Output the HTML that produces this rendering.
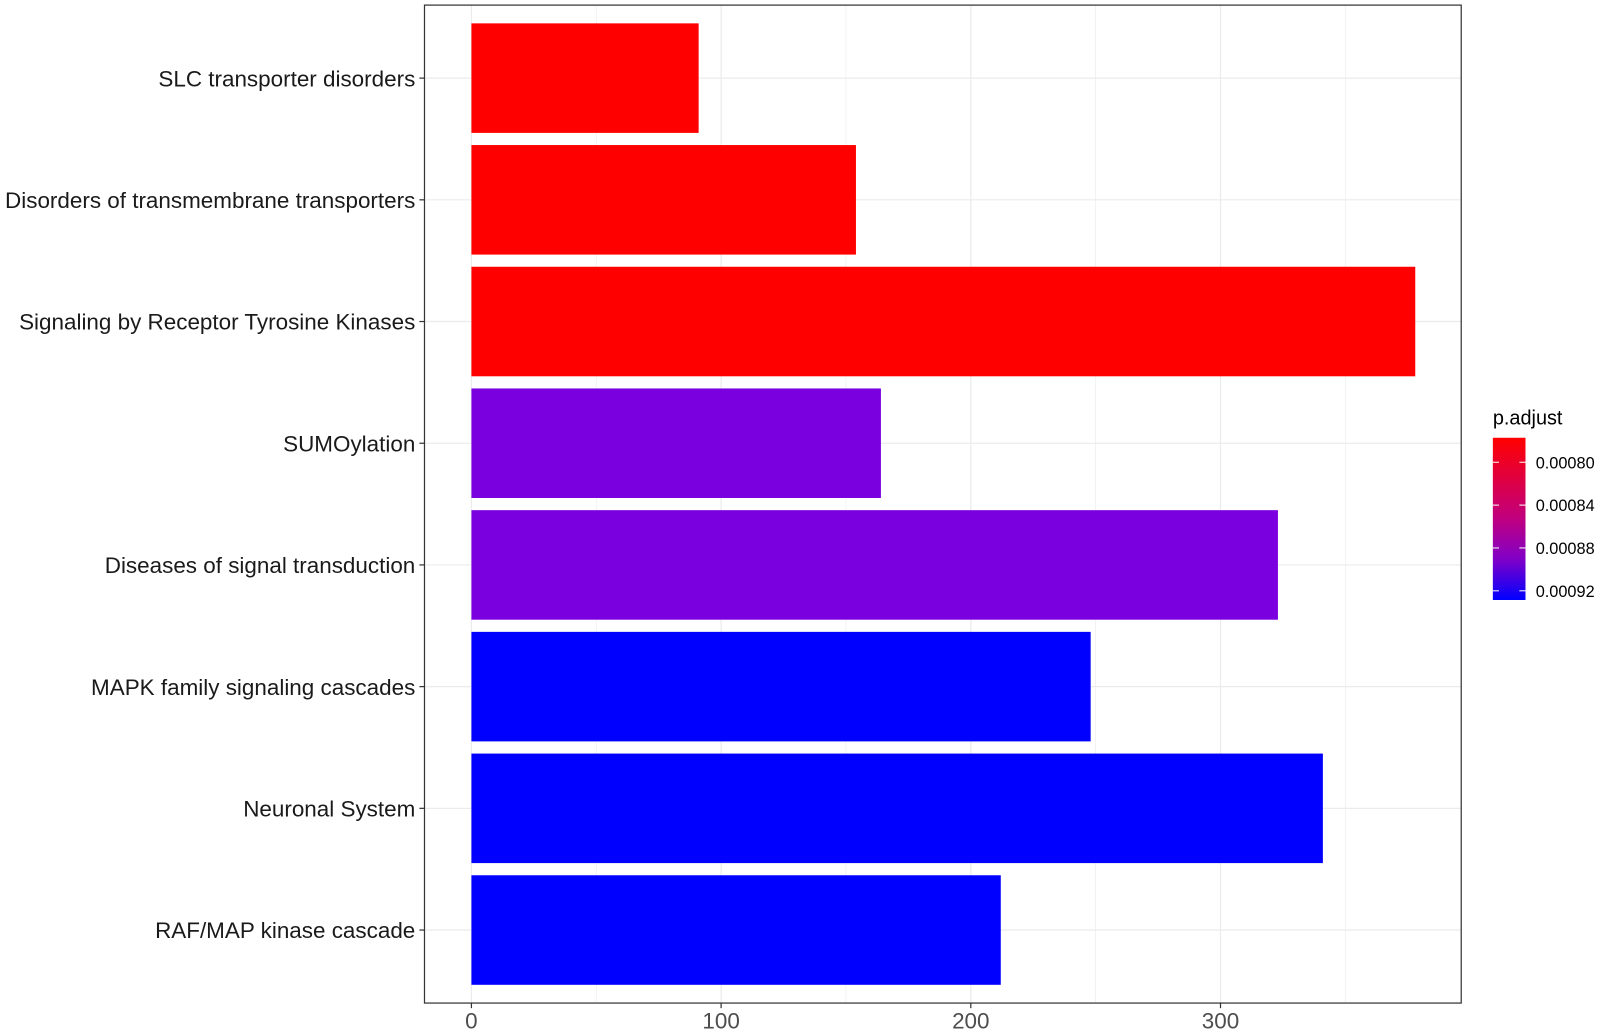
<!DOCTYPE html>
<html><head><meta charset="utf-8"><style>
body{margin:0;background:#fff;}
svg{display:block;font-family:"Liberation Sans",Arial,sans-serif;}
</style></head><body>
<svg width="1600" height="1033">
<defs><linearGradient id="grad" x1="0" y1="0" x2="0" y2="1">
<stop offset="0" stop-color="#ff0000"/><stop offset="0.5" stop-color="#c0007f"/><stop offset="0.75" stop-color="#8000c8"/><stop offset="1" stop-color="#0000ff"/></linearGradient></defs>
<g id="chart" transform="scale(1.0204)"></g>
</svg>
<script>
const categories=["SLC transporter disorders","Disorders of transmembrane transporters","Signaling by Receptor Tyrosine Kinases","SUMOylation","Diseases of signal transduction","MAPK family signaling cascades","Neuronal System","RAF/MAP kinase cascade"];
const counts=[91,154,378,164,323,248,341,212];
const colors=["#ff0000","#ff0000","#ff0000","#7b00e0","#7b00e0","#0000ff","#0000ff","#0000ff"];
const xTicks=[0,100,200,300];
const legendTicks=["0.00080","0.00084","0.00088","0.00092"];
const legendTickPos=[0.00080,0.00084,0.00088,0.00092];

const svg=document.getElementById('chart');
const NS='http://www.w3.org/2000/svg';
const L=416,R=1432,T=5,B=983;
const x=v=>462+v*2.447;
const band=(B-T)/(categories.length-1+1.2);
const yc=i=>T+band*(0.6+i);
function mk(tag,attrs,parent){const e=document.createElementNS(NS,tag);for(const k in attrs)e.setAttribute(k,attrs[k]);(parent||svg).appendChild(e);return e;}
for(let i=0;i<xTicks.length;i++){
  const g=mk('line',{x1:x(xTicks[i]),x2:x(xTicks[i]),y1:T,y2:B,stroke:'#ebebeb','stroke-width':1.2});
  
  
  if(i<xTicks.length-1){const m=(xTicks[i]+xTicks[i+1])/2;const g2=mk('line',{x1:x(m),x2:x(m),y1:T,y2:B,stroke:'#ebebeb','stroke-width':0.6});
  
  }
}
const lastMinor=mk('line',{x1:x(350),x2:x(350),y1:T,y2:B,stroke:'#ebebeb','stroke-width':0.6});


categories.forEach((c,i)=>{
  const g=mk('line',{x1:L,x2:R,y1:yc(i),y2:yc(i),stroke:'#ebebeb','stroke-width':1.2});
  
  
});
categories.forEach((c,i)=>{
  const h=band*0.9;
  const r=mk('rect',{x:x(0),y:yc(i)-h/2,width:x(counts[i])-x(0),height:h,fill:colors[i]});
  
  
  const t=mk('text',{x:407,y:yc(i)+8,'text-anchor':'end','font-size':22,fill:'#1a1a1a'});
  t.textContent=c;
  
  
  const tk=mk('line',{x1:L-5,x2:L,y1:yc(i),y2:yc(i),stroke:'#333','stroke-width':1.2});
  
  
});
xTicks.forEach(v=>{
  const tk=mk('line',{x1:x(v),x2:x(v),y1:B,y2:B+5,stroke:'#333','stroke-width':1.2});
  
  
  const t=mk('text',{x:x(v),y:B+25,'text-anchor':'middle','font-size':22,fill:'#4d4d4d'});
  t.textContent=v;
  
  
});
const frame=mk('rect',{x:L,y:T,width:R-L,height:B-T,fill:'none',stroke:'#333','stroke-width':1.2});


const lt=mk('text',{x:1463,y:416,'font-size':19.5,fill:'#000'});
lt.textContent='p.adjust';


const cb=mk('rect',{x:1463,y:429,width:32,height:159,fill:'url(#grad)'});


const ly=v=>453+(v-0.00080)/0.00004*42;
legendTicks.forEach((s,i)=>{
  const yy=ly(legendTickPos[i]);
  mk('line',{x1:1463,x2:1469,y1:yy,y2:yy,stroke:'#fff','stroke-width':1});
  mk('line',{x1:1489,x2:1495,y1:yy,y2:yy,stroke:'#fff','stroke-width':1});
  const t=mk('text',{x:1505,y:yy+6,'font-size':16,fill:'#000'});
  t.textContent=s;
  
  
});
</script>
</body></html>
